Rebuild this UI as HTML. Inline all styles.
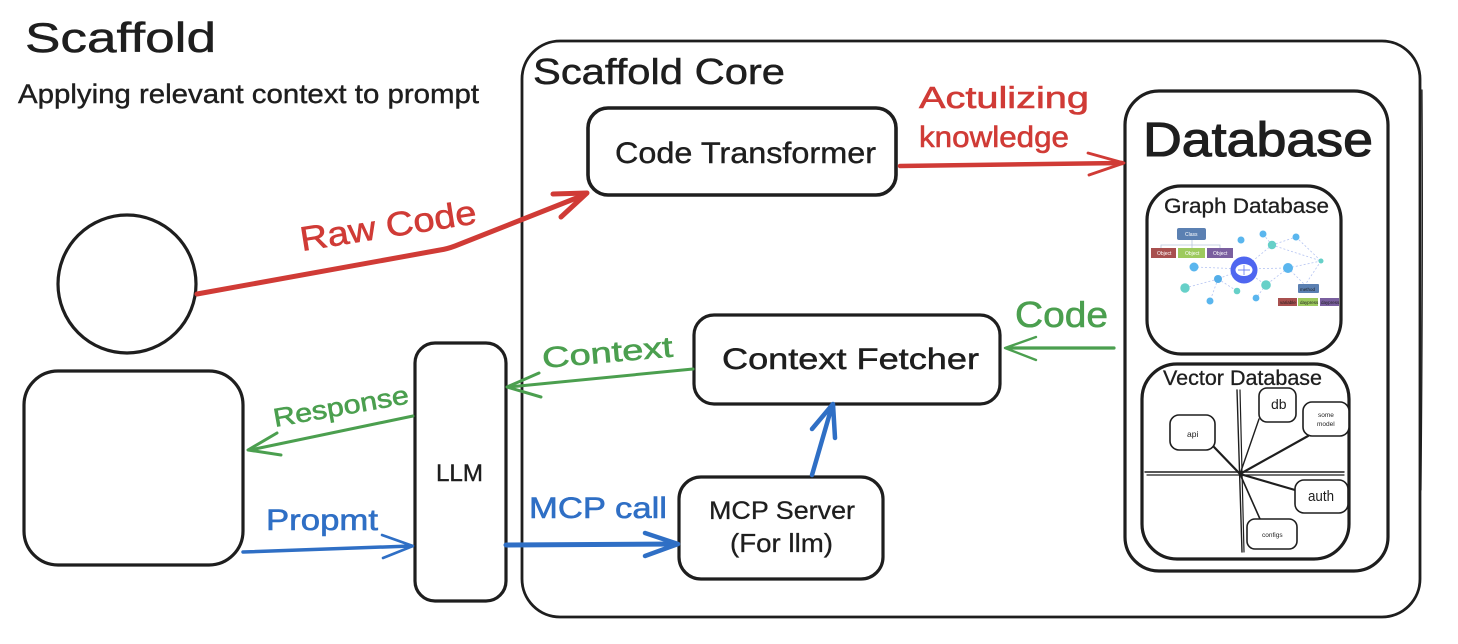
<!DOCTYPE html>
<html><head><meta charset="utf-8"><style>
html,body{margin:0;padding:0;background:#fff;width:1458px;height:644px;overflow:hidden}
svg{display:block}
text{font-family:"Liberation Sans",sans-serif;fill:#1e1e1e}
.k{stroke:#1e1e1e;stroke-width:.5}
.tr{fill:#d03b36;stroke:#d03b36;stroke-width:.6}
.tg{fill:#4b9f4f;stroke:#4b9f4f;stroke-width:.6}
.tb{fill:#2f6fc5;stroke:#2f6fc5;stroke-width:.6}
.b{fill:none;stroke:#1e1e1e;stroke-width:3.2;stroke-linecap:round;stroke-linejoin:round}
.t{fill:none;stroke:#1e1e1e;stroke-width:1.2;stroke-linecap:round}
.s{fill:#fff;stroke:#1e1e1e;stroke-width:1.6}
.r{fill:none;stroke:#d03b36;stroke-linecap:round;stroke-linejoin:round}
.g{fill:none;stroke:#4b9f4f;stroke-linecap:round;stroke-linejoin:round}
.u{fill:none;stroke:#2f6fc5;stroke-linecap:round;stroke-linejoin:round}
.e{stroke:#b5c4f2;stroke-width:.8;stroke-dasharray:2 2;fill:none}
</style></head><body>
<svg width="1458" height="644" viewBox="0 0 1458 644" xmlns="http://www.w3.org/2000/svg">
<!-- titles -->
<text class="k" x="25" y="52" font-size="42" textLength="191" lengthAdjust="spacingAndGlyphs">Scaffold</text>
<text class="k" x="18" y="103" font-size="27" textLength="461" lengthAdjust="spacingAndGlyphs" style="stroke-width:.4">Applying relevant context to prompt</text>
<!-- core -->
<rect x="522" y="41" width="898" height="576" rx="38" class="b" style="stroke-width:2.8"/>
<path d="M1422 90C1423 250 1422 380 1421 490" class="t"/>
<text class="k" x="533" y="84" font-size="36" textLength="252" lengthAdjust="spacingAndGlyphs">Scaffold Core</text>
<!-- user -->
<circle cx="127" cy="284" r="69" class="b"/>
<rect x="24" y="371" width="219" height="194" rx="34" class="b"/>
<!-- LLM -->
<rect x="415" y="343" width="91" height="258" rx="20" class="b"/>
<text class="k" x="436" y="481" font-size="24" textLength="47" lengthAdjust="spacingAndGlyphs" style="stroke-width:.4">LLM</text>
<!-- code transformer -->
<rect x="588" y="108" width="308" height="87" rx="20" class="b" style="stroke-width:3.6"/>
<text class="k" x="615" y="163" font-size="30" textLength="261" lengthAdjust="spacingAndGlyphs" style="stroke-width:.4">Code Transformer</text>
<!-- context fetcher -->
<rect x="694" y="315" width="306" height="89" rx="20" class="b"/>
<text class="k" x="722" y="369" font-size="30" textLength="257" lengthAdjust="spacingAndGlyphs" style="stroke-width:.5">Context Fetcher</text>
<!-- MCP server -->
<rect x="679" y="477" width="204" height="102" rx="22" class="b"/>
<text class="k" x="709" y="519" font-size="25" textLength="146" lengthAdjust="spacingAndGlyphs" style="stroke-width:.3">MCP Server</text>
<text class="k" x="730" y="552" font-size="26" textLength="103" lengthAdjust="spacingAndGlyphs" style="stroke-width:.3">(For llm)</text>
<!-- database -->
<rect x="1125" y="91" width="263" height="480" rx="34" class="b"/>
<text class="k" x="1143" y="156" font-size="48" textLength="230" lengthAdjust="spacingAndGlyphs" style="stroke-width:1.1">Database</text>
<!-- graph db -->
<rect x="1147" y="186" width="194" height="168" rx="34" class="b"/>
<text class="k" x="1164" y="213" font-size="21" textLength="165" lengthAdjust="spacingAndGlyphs" style="stroke-width:.3">Graph Database</text>
<g>
<path class="e" d="M1243 269L1194 267M1243 269L1218 279M1218 279L1185 288M1218 279L1237 291M1218 279L1210 301M1243 269L1272 245M1272 245L1263 234M1272 245L1296 237M1272 245L1321 261M1296 237L1321 261M1243 269L1288 268M1288 268L1321 261M1288 268L1266 285M1266 285L1256 298M1243 269L1266 285M1288 268L1305 285M1321 261L1305 285M1241 270L1241 262"/>
<path d="M1192 234V245M1161 250V245H1220V250M1192 245V250" fill="none" stroke="#b9c6de" stroke-width=".8"/>
<rect x="1177" y="228" width="29" height="12" rx="2" fill="#5b80b2"/>
<rect x="1151" y="248" width="25" height="10" fill="#a8504f"/>
<rect x="1178" y="248" width="27" height="10" fill="#9dca5e"/>
<rect x="1207" y="248" width="26" height="10" fill="#7a5f9f"/>
<text x="1185" y="236" font-size="5" style="fill:#fff">Class</text>
<text x="1157" y="255" font-size="5" style="fill:#fff">Object</text>
<text x="1185" y="255" font-size="5" style="fill:#fff">Object</text>
<text x="1213" y="255" font-size="5" style="fill:#fff">Object</text>
<circle cx="1194" cy="267" r="4.5" fill="#5ab6ee"/>
<circle cx="1218" cy="279" r="4" fill="#53aee8"/>
<circle cx="1185" cy="288" r="4.7" fill="#66d0c8"/>
<circle cx="1210" cy="301" r="3.5" fill="#5ab6ee"/>
<circle cx="1237" cy="291" r="3.3" fill="#66d0c8"/>
<circle cx="1241" cy="240" r="3.5" fill="#5ab6ee"/>
<circle cx="1263" cy="234" r="3.5" fill="#5ab6ee"/>
<circle cx="1272" cy="245" r="4.2" fill="#66d0c8"/>
<circle cx="1296" cy="237" r="3.5" fill="#5ab6ee"/>
<circle cx="1321" cy="261" r="2.5" fill="#66d0c8"/>
<circle cx="1288" cy="268" r="5" fill="#5ab6ee"/>
<circle cx="1266" cy="285" r="4.8" fill="#66d0c8"/>
<circle cx="1256" cy="298" r="3.4" fill="#5ab6ee"/>
<circle cx="1244" cy="270" r="13.5" fill="#4f66f0"/>
<ellipse cx="1244" cy="270" rx="8.5" ry="6" fill="#fff"/>
<path d="M1244 265V275M1238 270H1250" stroke="#4f66f0" stroke-width=".7"/>
<rect x="1298" y="284" width="21" height="9" rx="1" fill="#5b80b2"/>
<rect x="1278" y="298" width="19" height="8" fill="#a8504f"/>
<rect x="1298" y="298" width="20" height="8" fill="#9dca5e"/>
<rect x="1320" y="298" width="19" height="8" fill="#7a5f9f"/>
<text x="1300" y="291" font-size="4.5">method</text>
<text x="1280" y="304" font-size="4.5">variable</text>
<text x="1300" y="304" font-size="4.5">daypress</text>
<text x="1321" y="304" font-size="4.5">daypress</text>
</g>
<!-- vector db -->
<rect x="1142" y="364" width="207" height="195" rx="35" class="b"/>
<text class="k" x="1163" y="385" font-size="21" textLength="159" lengthAdjust="spacingAndGlyphs" style="stroke-width:.3">Vector Database</text>
<path d="M1237 390L1242 552" class="b" style="stroke-width:1.4"/>
<path d="M1240 390L1244 552" class="b" style="stroke-width:1.2"/>
<path d="M1145 472L1344 472" class="b" style="stroke-width:1.4"/>
<path d="M1147 475L1344 475" class="b" style="stroke-width:1.2"/>
<path d="M1240 474L1214 447" class="b" style="stroke-width:2.2"/>
<path d="M1240 474L1259 419" class="b" style="stroke-width:1.4"/>
<path d="M1240 474L1308 436" class="b" style="stroke-width:2.2"/>
<path d="M1240 474L1295 490" class="b" style="stroke-width:2.2"/>
<path d="M1240 474L1260 519" class="b" style="stroke-width:1.6"/>
<rect x="1170" y="415" width="45" height="35" rx="9" class="s"/>
<rect x="1259" y="388" width="37" height="34" rx="8" class="s"/>
<rect x="1303" y="402" width="46" height="34" rx="9" class="s"/>
<rect x="1295" y="480" width="53" height="33" rx="9" class="s"/>
<rect x="1247" y="519" width="50" height="30" rx="8" class="s"/>
<text x="1187" y="437" font-size="8.5">api</text>
<text x="1271" y="409" font-size="14">db</text>
<text x="1318" y="417" font-size="6.5">some</text>
<text x="1317" y="426" font-size="6.5">model</text>
<text x="1308" y="501" font-size="15" textLength="26" lengthAdjust="spacingAndGlyphs">auth</text>
<text x="1262" y="537" font-size="6.5">configs</text>
<!-- red arrows -->
<path class="r" stroke-width="5" d="M197 294L440 250Q447 249 455 246L584 195"/>
<path class="r" stroke-width="5" d="M553 194L587 193L561 217"/>
<text class="tr" x="302" y="251" font-size="34" transform="rotate(-9 302 251)" textLength="178" lengthAdjust="spacingAndGlyphs">Raw Code</text>
<path class="r" stroke-width="4.5" d="M900 166L1122 163"/>
<path class="r" stroke-width="2.8" d="M1088 153L1124 163L1089 175"/>
<text class="tr" x="919" y="108" font-size="31" textLength="170" lengthAdjust="spacingAndGlyphs">Actulizing</text>
<text class="tr" x="919" y="147" font-size="30" textLength="150" lengthAdjust="spacingAndGlyphs">knowledge</text>
<!-- green arrows -->
<path class="g" stroke-width="3.2" d="M1114 348L1007 348"/>
<path class="g" stroke-width="2.4" d="M1036 337L1005 348L1036 360"/>
<text class="tg" x="1015" y="327" font-size="36" textLength="93" lengthAdjust="spacingAndGlyphs">Code</text>
<path class="g" stroke-width="3" d="M693 369L509 387"/>
<path class="g" stroke-width="3" d="M539 373L507 387L541 397"/>
<text class="tg" x="543" y="368" font-size="29" transform="rotate(-5 543 368)" textLength="131" lengthAdjust="spacingAndGlyphs">Context</text>
<path class="g" stroke-width="3" d="M413 416L250 450"/>
<path class="g" stroke-width="3" d="M277 433L248 450L281 455"/>
<text class="tg" x="275" y="427" font-size="26" transform="rotate(-10 275 427)" textLength="137" lengthAdjust="spacingAndGlyphs">Response</text>
<!-- blue arrows -->
<path class="u" stroke-width="3.5" d="M243 552L411 546"/>
<path class="u" stroke-width="2.6" d="M382 535L413 546L383 558"/>
<text class="tb" x="266" y="530" font-size="30" textLength="112" lengthAdjust="spacingAndGlyphs">Propmt</text>
<path class="u" stroke-width="5" d="M506 545L676 544"/>
<path class="u" stroke-width="4.5" d="M645 533L678 544L645 556"/>
<text class="tb" x="529" y="518" font-size="30" textLength="138" lengthAdjust="spacingAndGlyphs">MCP call</text>
<path class="u" stroke-width="4.5" d="M812 475L832 406"/>
<path class="u" stroke-width="4.5" d="M812 429L833 404L835 438"/>
</svg>
</body></html>
